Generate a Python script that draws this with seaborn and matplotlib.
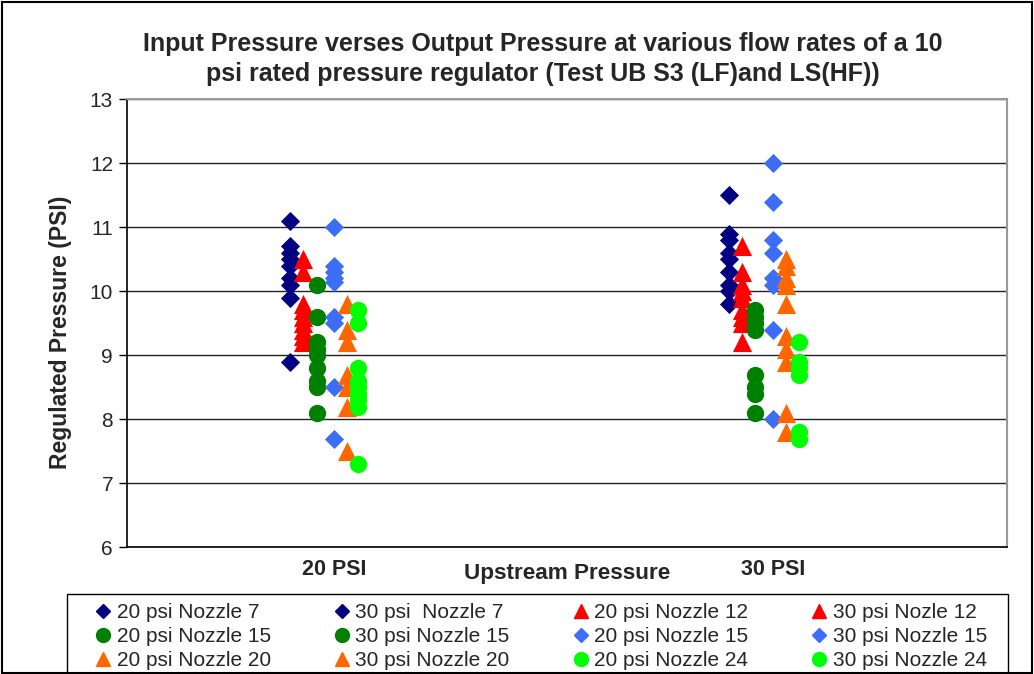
import matplotlib
matplotlib.use("Agg")
import matplotlib.pyplot as plt
import seaborn as sns
import pandas as pd
from matplotlib.lines import Line2D
from matplotlib.patches import Rectangle

# series names in the order Excel draws them
series = ["20 psi Nozzle 7", "30 psi  Nozzle 7", "20 psi Nozzle 12", "30 psi Nozle 12",
          "20 psi Nozzle 15", "30 psi Nozzle 15", "20 psi Nozzle 15 ", "30 psi Nozzle 15 ",
          "20 psi Nozzle 20", "30 psi Nozzle 20", "20 psi Nozzle 24", "30 psi Nozzle 24"]

# x position of each series (upstream pressure, slightly offset per nozzle)
x_pos = [19.0, 29.0, 19.3, 29.3, 19.6, 29.6, 20.0, 30.0, 20.3, 30.3, 20.55, 30.6]

# regulated pressure readings (PSI)
n7_20 = [11.1, 10.7, 10.6, 10.5, 10.4, 10.2, 10.1, 9.9, 8.9]
n7_30 = [11.5, 10.9, 10.8, 10.6, 10.5, 10.3, 10.1, 10.0, 9.8]
n12_20 = [10.5, 10.3, 9.8, 9.7, 9.6, 9.5, 9.4, 9.3, 9.2]
n12_30 = [10.7, 10.3, 10.1, 10.0, 9.9, 9.7, 9.6, 9.5, 9.2]
n15g_20 = [10.1, 9.6, 9.2, 9.1, 9.0, 8.8, 8.6, 8.5, 8.1]
n15g_30 = [9.7, 9.6, 9.5, 9.4, 8.7, 8.5, 8.4, 8.1]
n15b_20 = [11.0, 10.4, 10.3, 10.2, 10.15, 9.6, 9.5, 8.5, 7.7]
n15b_30 = [12.0, 11.4, 10.8, 10.6, 10.2, 10.1, 9.4, 8.0]
n20_20 = [9.8, 9.4, 9.2, 8.7, 8.5, 8.2, 7.5]
n20_30 = [10.5, 10.4, 10.2, 10.1, 9.8, 9.3, 9.1, 8.9, 8.1, 7.8]
n24_20 = [9.7, 9.5, 8.8, 8.6, 8.5, 8.4, 8.3, 8.2, 7.3]
n24_30 = [9.2, 8.9, 8.8, 8.7, 7.8, 7.7]

values = [n7_20, n7_30, n12_20, n12_30, n15g_20, n15g_30,
          n15b_20, n15b_30, n20_20, n20_30, n24_20, n24_30]

colors = ["#000080", "#000080", "#FF0000", "#FF0000", "#008000", "#008000",
          "#3B6EF5", "#3B6EF5", "#FF6600", "#FF6600", "#00FF00", "#00FF00"]
marks = ["D", "D", "^", "^", "o", "o", "D", "D", "^", "^", "o", "o"]
sizes = {"D": 95, "^": 190, "o": 155}

rows = []
for name, xp, vals in zip(series, x_pos, values):
    for v in vals:
        rows.append({"x": xp, "y": v, "series": name})
df = pd.DataFrame(rows)

sns.set_style("white")
plt.rcParams["font.family"] = ["Liberation Sans", "DejaVu Sans"]

fig = plt.figure(figsize=(10.34, 6.74), dpi=100)
ax = fig.add_axes([0.1228, 0.1877, 0.851, 0.6654])

for name, col, m in zip(series, colors, marks):
    sns.scatterplot(data=df[df["series"] == name], x="x", y="y", color=col,
                    marker=m, s=sizes[m], linewidth=0, ax=ax, zorder=3, legend=False)

ax.set_xlim(15.28, 35.33)
ax.set_ylim(6, 13)
ax.set_yticks(range(6, 14))
ax.set_xticks([20, 30])
ax.set_xticklabels(["20 PSI", "30 PSI"], fontsize=15.5, fontweight="bold")
ax.tick_params(axis="x", length=0, pad=8)
ax.tick_params(axis="y", direction="out", length=6, width=1, color="black",
               labelsize=15, pad=4, left=True)
ax.yaxis.grid(True, color="#222222", linewidth=1)
ax.set_axisbelow(True)
for s in ["top", "right"]:
    ax.spines[s].set_color("#999999")
    ax.spines[s].set_linewidth(1.5)
for s in ["left", "bottom"]:
    ax.spines[s].set_color("black")
    ax.spines[s].set_linewidth(1.2)

ax.set_xlabel("Upstream Pressure", fontsize=16.2, fontweight="bold")
ax.xaxis.set_label_coords(0.5006, -0.034)
ax.set_ylabel("Regulated Pressure (PSI)", fontsize=16.5, fontweight="bold")
ax.yaxis.set_label_coords(-0.0625, 0.4805)
fig.suptitle("Input Pressure verses Output Pressure at various flow rates of a 10\n"
             "psi rated pressure regulator (Test UB S3 (LF)and LS(HF))",
             x=0.525, y=0.952, va="top", fontsize=18, fontweight="bold", linespacing=1.32)

# legend, laid out row by row like the original
handles = [Line2D([], [], linestyle="none", marker=m, color=c, markersize=10 if m != "D" else 7.5)
           for m, c in zip(marks, colors)]
labels = [s.strip() for s in series]
order = [c + 4 * r for c in range(4) for r in range(3)]
leg = fig.legend([handles[i] for i in order], [labels[i] for i in order], ncol=4,
                 loc="upper left", bbox_to_anchor=(0.0919, 0.0, 0.8626, 0.1053),
                 mode="expand", fontsize=15, frameon=False,
                 handlelength=0.8, handletextpad=0.25, labelspacing=0.245,
                 borderpad=0, borderaxespad=0)

fig.patches.append(Rectangle((0.0648, -0.01), 0.9101, 0.1287, transform=fig.transFigure,
                             fill=False, edgecolor="black", linewidth=1))
fig.patches.append(Rectangle((0.002, 0.002), 0.996, 0.995, transform=fig.transFigure,
                             fill=False, edgecolor="black", linewidth=1.5))

fig.savefig("out.png", dpi=100)
